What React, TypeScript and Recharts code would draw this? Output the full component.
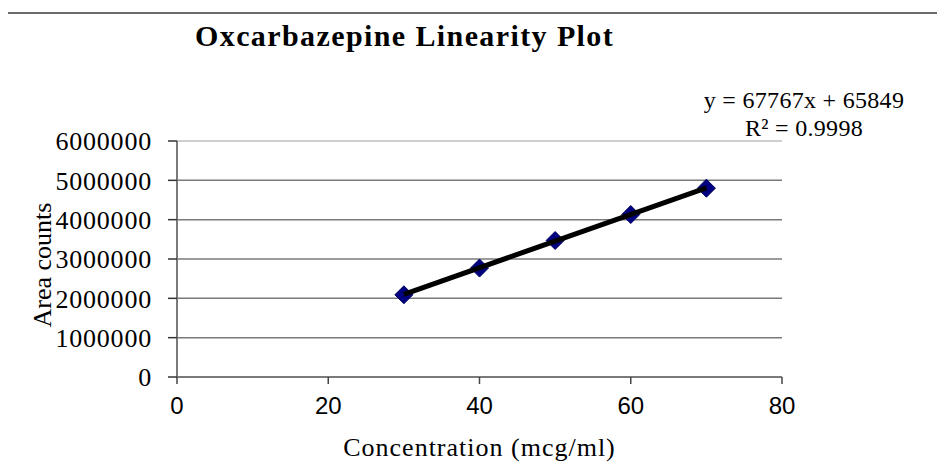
import {
    CartesianGrid,
    Label,
    ReferenceLine,
    Scatter,
    ScatterChart,
    XAxis,
    YAxis,
} from "recharts";

const concentracao = [30, 40, 50, 60, 70];
const area = [2090000, 2770000, 3470000, 4130000, 4800000];

// linha de tendência (extremos)
const tendenciaX = [30, 70];
const tendenciaY = [2100000, 4810000];

const ticksX = [0, 20, 40, 60, 80];
const ticksY = [0, 1000000, 2000000, 3000000, 4000000, 5000000, 6000000];

const titulo = "Oxcarbazepine Linearity Plot";
const equacao = "y = 67767x + 65849";
const r2 = "R² = 0.9998";

const SERIF = "'Liberation Serif', 'Times New Roman', serif";
const SANS = "'Liberation Sans', Arial, sans-serif";

const pontos = concentracao.map((x, i) => ({ x, y: area[i] }));
const tendencia = tendenciaX.map((x, i) => ({ x, y: tendenciaY[i] }));

function Losango(props: any) {
    const { cx, cy } = props;
    const r = 9;
    return (
        <polygon
            points={`${cx},${cy - r} ${cx + r},${cy} ${cx},${cy + r} ${cx - r},${cy}`}
            fill="#000080"
            stroke="#000060"
            strokeWidth={1}
        />
    );
}

export default function App() {
    return (
        <div
            style={{
                position: "absolute",
                left: 0,
                top: 0,
                width: 937,
                height: 465,
                background: "#fff",
            }}
        >
            <div
                style={{
                    position: "absolute",
                    left: 8,
                    right: 0,
                    top: 12,
                    height: 0,
                    borderTop: "2px solid #6b6b6b",
                }}
            />

            <div
                style={{
                    position: "absolute",
                    left: 195,
                    top: 20,
                    fontFamily: SERIF,
                    fontWeight: "bold",
                    fontSize: 30,
                    letterSpacing: 1.4,
                    lineHeight: "32px",
                    color: "#000",
                    whiteSpace: "nowrap",
                }}
            >
                {titulo}
            </div>

            <div
                style={{
                    position: "absolute",
                    left: 684,
                    width: 240,
                    top: 86,
                    fontFamily: SERIF,
                    fontSize: 24,
                    letterSpacing: 0.3,
                    lineHeight: "28px",
                    textAlign: "center",
                    color: "#000",
                    whiteSpace: "nowrap",
                }}
            >
                <div>{equacao}</div>
                <div>{r2}</div>
            </div>

            <ScatterChart
                width={937}
                height={465}
                margin={{ top: 141, right: 155, bottom: 0, left: 0 }}
                style={{ position: "absolute", left: 0, top: 0 }}
            >
                <CartesianGrid
                    vertical={false}
                    stroke="#7a7a7a"
                    strokeWidth={1.5}
                />

                <ReferenceLine
                    y={6000000}
                    stroke="#cfcfcf"
                    strokeWidth={2}
                />

                <XAxis
                    type="number"
                    dataKey="x"
                    domain={[0, 80]}
                    ticks={ticksX}
                    allowDataOverflow
                    height={88}
                    tickSize={7}
                    tickMargin={13}
                    axisLine={{ stroke: "#7a7a7a", strokeWidth: 2 }}
                    tickLine={{ stroke: "#444", strokeWidth: 1.5 }}
                    tick={{ fontFamily: SANS, fontSize: 24, fill: "#000" }}
                >
                    <Label
                        content={(p: any) => {
                            const vb = p.viewBox;
                            return (
                                <text
                                    x={vb.x + vb.width / 2}
                                    y={vb.y + 79}
                                    textAnchor="middle"
                                    fontFamily={SERIF}
                                    fontSize={26}
                                    letterSpacing={1}
                                    fill="#000"
                                >
                                    Concentration (mcg/ml)
                                </text>
                            );
                        }}
                    />
                </XAxis>

                <YAxis
                    type="number"
                    dataKey="y"
                    domain={[0, 6000000]}
                    ticks={ticksY}
                    width={177}
                    tickSize={9}
                    tickMargin={16}
                    axisLine={{ stroke: "#7a7a7a", strokeWidth: 2 }}
                    tickLine={{ stroke: "#333", strokeWidth: 1.5 }}
                    tick={{
                        fontFamily: SERIF,
                        fontSize: 26,
                        letterSpacing: 0.8,
                        fill: "#000",
                    }}
                >
                    <Label
                        content={(p: any) => {
                            const vb = p.viewBox;
                            const cx = vb.x + 42;
                            const cy = vb.y + vb.height / 2 + 6;
                            return (
                                <text
                                    x={cx}
                                    y={cy}
                                    transform={`rotate(-90, ${cx}, ${cy})`}
                                    textAnchor="middle"
                                    dominantBaseline="central"
                                    fontFamily={SERIF}
                                    fontSize={26}
                                    fill="#000"
                                >
                                    Area counts
                                </text>
                            );
                        }}
                    />
                </YAxis>

                <Scatter
                    data={pontos}
                    shape={<Losango />}
                    isAnimationActive={false}
                />

                <Scatter
                    data={tendencia}
                    line={{ stroke: "#000", strokeWidth: 5 }}
                    shape={() => <g />}
                    isAnimationActive={false}
                />
            </ScatterChart>
        </div>
    );
}
